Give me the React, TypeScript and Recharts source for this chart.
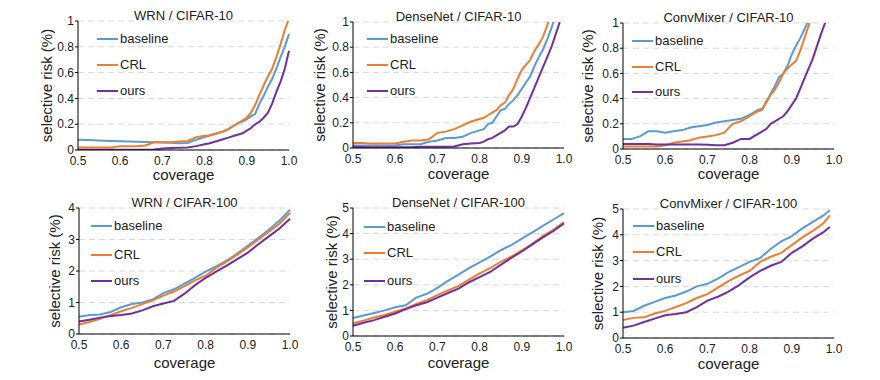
import { CartesianGrid, Legend, Line, LineChart, XAxis, YAxis } from 'recharts'

// coverage grids (x values)
const coverage10 = [
  0.5, 0.52, 0.54, 0.56, 0.58, 0.6, 0.62, 0.64, 0.66, 0.68, 0.7, 0.72, 0.74, 0.76, 0.78, 0.8,
  0.81, 0.82, 0.83, 0.84, 0.85, 0.86, 0.87, 0.88, 0.89, 0.9, 0.91, 0.92, 0.93, 0.94, 0.95, 0.96, 0.97, 0.98, 0.99, 1.0,
]
const coverage100 = [
  0.5, 0.525, 0.55, 0.575, 0.6, 0.625, 0.65, 0.675, 0.7, 0.725, 0.75, 0.775, 0.8, 0.825, 0.85, 0.875, 0.9, 0.925,
  0.95, 0.975, 1.0,
]
const coverageConvMixer100 = [
  0.5, 0.525, 0.55, 0.575, 0.6, 0.625, 0.65, 0.675, 0.7, 0.725, 0.75, 0.775, 0.8, 0.825, 0.85, 0.875, 0.9, 0.925,
  0.95, 0.975, 0.99,
]

// WRN / CIFAR-10
const wrn10Baseline = [
  0.08, 0.078, 0.075, 0.072, 0.07, 0.068, 0.066, 0.064, 0.062, 0.06, 0.058, 0.056, 0.052, 0.055, 0.08, 0.1,
  0.11, 0.12, 0.13, 0.14, 0.15, 0.17, 0.19, 0.21, 0.22, 0.24, 0.26, 0.28, 0.36, 0.42, 0.49, 0.55, 0.63, 0.72, 0.8, 0.9,
]
const wrn10Crl = [
  0.02, 0.02, 0.02, 0.02, 0.02, 0.03, 0.03, 0.03, 0.035, 0.06, 0.06, 0.06, 0.065, 0.07, 0.1, 0.11,
  0.11, 0.12, 0.13, 0.14, 0.15, 0.17, 0.19, 0.21, 0.23, 0.25, 0.29, 0.35, 0.43, 0.5, 0.57, 0.63, 0.72, 0.82, 0.93, 1.02,
]
const wrn10Ours = [
  0.002, 0.002, 0.002, 0.002, 0.002, 0.002, 0.002, 0.002, 0.002, 0.004, 0.012, 0.015, 0.018, 0.02, 0.03, 0.045,
  0.05, 0.06, 0.07, 0.08, 0.09, 0.1, 0.11, 0.12, 0.13, 0.15, 0.17, 0.2, 0.22, 0.25, 0.29, 0.36, 0.45, 0.53, 0.63, 0.77,
]

// DenseNet / CIFAR-10
const dense10Baseline = [
  0.02, 0.02, 0.02, 0.02, 0.02, 0.02, 0.03, 0.03, 0.03, 0.05, 0.06, 0.08, 0.08, 0.09, 0.12, 0.14,
  0.15, 0.19, 0.2, 0.25, 0.3, 0.31, 0.35, 0.38, 0.42, 0.47, 0.52, 0.57, 0.65, 0.72, 0.78, 0.86, 0.95, 1.05, null, null,
]
const dense10Crl = [
  0.04, 0.04, 0.035, 0.035, 0.035, 0.035, 0.05, 0.06, 0.06, 0.07, 0.12, 0.13, 0.15, 0.18, 0.21, 0.23,
  0.24, 0.26, 0.28, 0.3, 0.34, 0.36, 0.42, 0.47, 0.55, 0.62, 0.66, 0.7, 0.77, 0.82, 0.88, 0.97, 1.07, null, null, null,
]
const dense10Ours = [
  0.01, 0.008, 0.006, 0.005, 0.005, 0.005, 0.005, 0.005, 0.01, 0.01, 0.01, 0.01, 0.012, 0.03, 0.035, 0.04,
  0.05, 0.07, 0.08, 0.1, 0.12, 0.14, 0.17, 0.17, 0.19, 0.25, 0.32, 0.4, 0.48, 0.56, 0.64, 0.72, 0.8, 0.9, 1.0, null,
]

// ConvMixer / CIFAR-10
const conv10Baseline = [
  0.08, 0.08, 0.1, 0.14, 0.14, 0.13, 0.14, 0.15, 0.17, 0.18, 0.19, 0.21, 0.22, 0.23, 0.24, 0.27,
  0.29, 0.31, 0.32, 0.37, 0.44, 0.5, 0.57, 0.6, 0.66, 0.75, 0.82, 0.88, 0.95, 1.02, null, null, null, null, null, null,
]
const conv10Crl = [
  0.02, 0.02, 0.02, 0.02, 0.02, 0.03, 0.05, 0.06, 0.07, 0.09, 0.1, 0.11, 0.13, 0.2, 0.22, 0.26,
  0.28, 0.3, 0.31, 0.38, 0.43, 0.47, 0.53, 0.6, 0.64, 0.67, 0.7, 0.78, 0.88, 0.98, 1.08, null, null, null, null, null,
]
const conv10Ours = [
  0.04, 0.04, 0.04, 0.04, 0.035, 0.035, 0.035, 0.035, 0.035, 0.035, 0.033, 0.03, 0.03, 0.05, 0.08, 0.08,
  0.1, 0.12, 0.14, 0.16, 0.2, 0.22, 0.24, 0.26, 0.3, 0.35, 0.4, 0.48, 0.56, 0.64, 0.72, 0.82, 0.92, 1.01, null, null,
]

// WRN / CIFAR-100
const wrn100Baseline = [
  0.55, 0.6, 0.62, 0.7, 0.85, 0.95, 1.0, 1.1, 1.3, 1.42, 1.6, 1.78, 1.98, 2.15, 2.33, 2.55, 2.8, 3.05, 3.31, 3.6, 3.95,
]
const wrn100Crl = [
  0.3, 0.38, 0.48, 0.6, 0.72, 0.83, 0.95, 1.07, 1.22, 1.35, 1.52, 1.7, 1.85, 2.1, 2.3, 2.52, 2.75, 3.0, 3.25, 3.5, 3.85,
]
const wrn100Ours = [
  0.4, 0.45, 0.52, 0.57, 0.6, 0.65, 0.75, 0.88, 0.97, 1.05, 1.28, 1.55, 1.78, 1.98, 2.17, 2.38, 2.58, 2.85, 3.1, 3.35,
  3.66,
]

// DenseNet / CIFAR-100
const dense100Baseline = [
  0.7, 0.8, 0.9, 1.0, 1.12, 1.2, 1.5, 1.65, 1.88, 2.15, 2.4, 2.65, 2.88, 3.1, 3.35, 3.55, 3.8, 4.05, 4.3, 4.55, 4.8,
]
const dense100Crl = [
  0.5, 0.6, 0.72, 0.82, 0.95, 1.08, 1.25, 1.4, 1.6, 1.78, 1.95, 2.2, 2.45, 2.65, 2.9, 3.1, 3.35, 3.6, 3.9, 4.15, 4.45,
]
const dense100Ours = [
  0.4, 0.52, 0.62, 0.75, 0.88, 1.05, 1.2, 1.32, 1.5, 1.68, 1.85, 2.1, 2.3, 2.5, 2.78, 3.05, 3.3, 3.58, 3.85, 4.1, 4.4,
]

// ConvMixer / CIFAR-100
const conv100Baseline = [
  1.0, 1.05, 1.25, 1.4, 1.55, 1.65, 1.8, 2.0, 2.1, 2.3, 2.55, 2.75, 2.95, 3.1, 3.45, 3.75, 3.95, 4.25, 4.5, 4.75, 4.95,
]
const conv100Crl = [
  0.7, 0.78, 0.8, 0.95, 1.05, 1.2, 1.35, 1.55, 1.7, 1.95, 2.2, 2.42, 2.6, 2.95, 3.15, 3.3, 3.6, 3.9, 4.15, 4.45, 4.75,
]
const conv100Ours = [
  0.4, 0.48, 0.62, 0.75, 0.88, 0.93, 1.0, 1.2, 1.45, 1.6, 1.8, 2.05, 2.35, 2.6, 2.8, 2.95, 3.3, 3.55, 3.85, 4.1, 4.3,
]

const coverageTicks = [0.5, 0.6, 0.7, 0.8, 0.9, 1.0]
const risk10Ticks = [0, 0.2, 0.4, 0.6, 0.8, 1]
const risk4Ticks = [0, 1, 2, 3, 4]
const risk5Ticks = [0, 1, 2, 3, 4, 5]

const seriesNames = ['baseline', 'CRL', 'ours']
const colors = ['#5B9BD5', '#ED7D31', '#7030A0']

const FONT = '"Liberation Sans", Arial, Helvetica, sans-serif'
const TOP = 25
const PLOT_W = 211

type Panel = {
  title: string
  coverage: number[]
  series: (number | null)[][]
  ticks: number[]
  left: number
  top: number
  h: number
  yw: number
  xh: number
  legendX: number
  legendY: number[]
}

const panels: Panel[] = [
  { title: 'WRN / CIFAR-10', coverage: coverage10, series: [wrn10Baseline, wrn10Crl, wrn10Ours], ticks: risk10Ticks,
    left: 78, top: 21, h: 129, yw: 62, xh: 48, legendX: 19, legendY: [18, 44, 70] },
  { title: 'DenseNet / CIFAR-10', coverage: coverage10, series: [dense10Baseline, dense10Crl, dense10Ours], ticks: risk10Ticks,
    left: 353, top: 22, h: 126, yw: 66, xh: 50, legendX: 14, legendY: [17, 43, 69] },
  { title: 'ConvMixer / CIFAR-10', coverage: coverage10, series: [conv10Baseline, conv10Crl, conv10Ours], ticks: risk10Ticks,
    left: 623, top: 23, h: 126, yw: 70, xh: 48, legendX: 9, legendY: [18, 44, 69] },
  { title: 'WRN / CIFAR-100', coverage: coverage100, series: [wrn100Baseline, wrn100Crl, wrn100Ours], ticks: risk4Ticks,
    left: 79, top: 208, h: 126, yw: 48, xh: 56, legendX: 12, legendY: [18, 47, 73] },
  { title: 'DenseNet / CIFAR-100', coverage: coverage100, series: [dense100Baseline, dense100Crl, dense100Ours], ticks: risk5Ticks,
    left: 353, top: 208, h: 128, yw: 42, xh: 51, legendX: 11, legendY: [19, 45, 73] },
  { title: 'ConvMixer / CIFAR-100', coverage: coverageConvMixer100, series: [conv100Baseline, conv100Crl, conv100Ours], ticks: risk5Ticks,
    left: 623, top: 209, h: 129, yw: 50, xh: 49, legendX: 10, legendY: [17, 43, 70] },
]

function ChartPanel({ p }: { p: Panel }) {
  const data = p.coverage.map((c, i) => ({ c, s0: p.series[0][i], s1: p.series[1][i], s2: p.series[2][i] }))
  const yMax = p.ticks[p.ticks.length - 1]
  const width = p.yw + PLOT_W + 10
  const height = TOP + p.h + p.xh

  // keep the legend in series order (baseline, CRL, ours)
  const legendContent = () => (
    <div style={{ position: 'relative', width: 90, height: 90, fontFamily: FONT }}>
      {seriesNames.map((name, i) => (
        <div
          key={name}
          style={{ position: 'absolute', left: 0, top: p.legendY[i] - 8, height: 16, display: 'flex', alignItems: 'center', whiteSpace: 'nowrap' }}
        >
          <span style={{ display: 'inline-block', width: 21, height: 0, borderTop: `2.5px solid ${colors[i]}`, marginRight: 2 }} />
          <span style={{ fontSize: 13, color: '#222', lineHeight: '16px' }}>{name}</span>
        </div>
      ))}
    </div>
  )

  return (
    <div style={{ position: 'absolute', left: p.left - p.yw, top: p.top - TOP, width, height }}>
      <div
        style={{ position: 'absolute', left: p.yw, top: TOP - 13, width: PLOT_W, textAlign: 'center', fontSize: 13, lineHeight: '15px', color: '#222', fontFamily: FONT }}
      >
        {p.title}
      </div>
      <LineChart width={width} height={height} data={data} margin={{ top: TOP, right: 10, bottom: 0, left: 0 }}>
        <CartesianGrid vertical={false} stroke="#d9d9d9" strokeDasharray="6 4" />
        <XAxis
          dataKey="c"
          type="number"
          domain={[0.5, 1]}
          ticks={coverageTicks}
          tickFormatter={(v: number) => v.toFixed(1)}
          tickLine={false}
          tickSize={5}
          tickMargin={1}
          height={p.xh}
          axisLine={{ stroke: '#000' }}
          tick={{ fontSize: 12, fill: '#222', fontFamily: FONT }}
          label={{ value: 'coverage', position: 'center', dy: 1, fontSize: 15, fill: '#222', fontFamily: FONT }}
        />
        <YAxis
          type="number"
          domain={[0, yMax]}
          ticks={p.ticks}
          allowDataOverflow
          width={p.yw}
          tickSize={3}
          tickMargin={1}
          axisLine={{ stroke: '#000' }}
          tickLine={{ stroke: '#000' }}
          tick={{ fontSize: 12, fill: '#222', fontFamily: FONT }}
          label={{ value: 'selective risk (%)', angle: -90, position: 'center', fontSize: 15, fill: '#222', fontFamily: FONT }}
        />
        <Legend
          layout="vertical"
          align="center"
          verticalAlign="middle"
          content={legendContent}
          wrapperStyle={{ left: p.yw + p.legendX, top: TOP, width: 90, height: 90 }}
        />
        {seriesNames.map((name, i) => (
          <Line
            key={name}
            name={name}
            dataKey={`s${i}`}
            type="linear"
            stroke={colors[i]}
            strokeWidth={2}
            dot={false}
            activeDot={false}
            isAnimationActive={false}
          />
        ))}
      </LineChart>
    </div>
  )
}

export default function App() {
  return (
    <div style={{ position: 'absolute', left: 0, top: 0, width: 880, height: 380, overflow: 'hidden', background: '#fff', fontFamily: FONT }}>
      {panels.map(p => (
        <ChartPanel key={p.title} p={p} />
      ))}
    </div>
  )
}
